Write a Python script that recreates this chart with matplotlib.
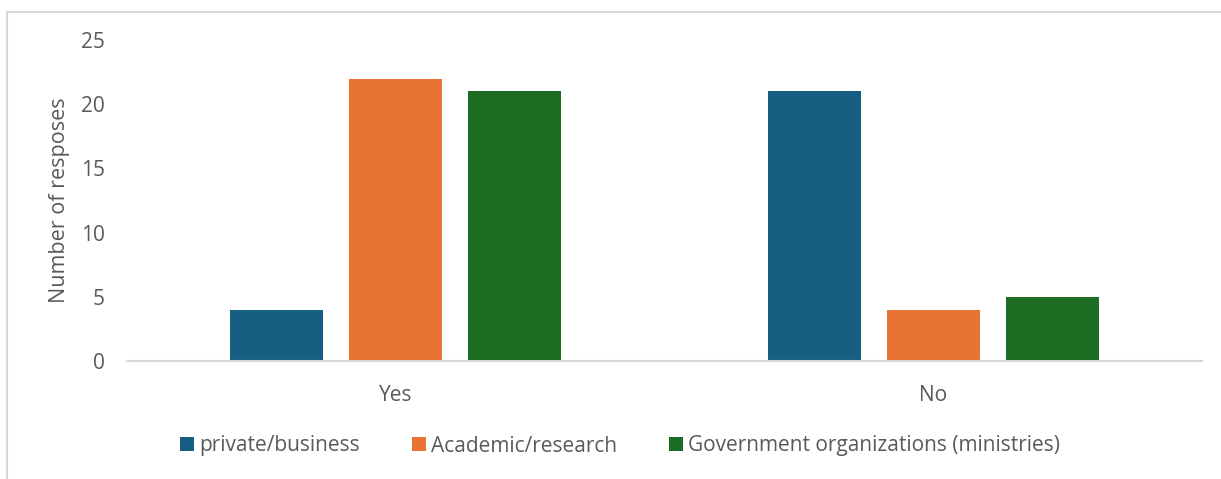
import matplotlib.pyplot as plt
import numpy as np
from matplotlib.patches import Rectangle

categories = ['Yes', 'No']
series_names = ['private/business', 'Academic/research',
                'Government organizations (ministries)']
private_vals = [4, 21]
academic_vals = [22, 4]
government_vals = [21, 5]
colors = ['#175f82', '#e97333', '#1c6c24']
yticks = [0, 5, 10, 15, 20, 25]

plt.rcParams['font.family'] = ['Open Sans', 'DejaVu Sans']

W, H = 1221, 479
fig = plt.figure(figsize=(W / 100, H / 100), dpi=100)
fig.patches.append(Rectangle((7 / W, -0.01), 1.05, 1 - 12 / H + 0.01,
                             transform=fig.transFigure, fill=False,
                             edgecolor='#d9d9d9', linewidth=1.5))

ax = fig.add_axes([127 / W, 1 - 361 / H, (1202 - 127) / W, (361 - 40) / H])

x = np.arange(len(categories))
width = 0.173
step = 0.2216
for i, (vals, name) in enumerate(zip([private_vals, academic_vals, government_vals],
                                      series_names)):
    ax.bar(x + (i - 1) * step, vals, width, color=colors[i], label=name)

ax.set_xlim(-0.5, 1.5)
ax.set_ylim(0, 25)
ax.set_yticks(yticks)
ax.set_xticks(x)
ax.set_xticklabels(categories)
for s in ['top', 'right', 'left']:
    ax.spines[s].set_visible(False)
ax.spines['bottom'].set_color('#d9d9d9')
ax.spines['bottom'].set_linewidth(1.5)
ax.tick_params(axis='both', length=0, labelsize=15, colors='#595959')
ax.tick_params(axis='y', pad=16)
ax.tick_params(axis='x', pad=17)
ax.set_ylabel('Number of resposes', fontsize=15.5, color='#595959', labelpad=8)

leg = fig.legend(loc='center', bbox_to_anchor=(620 / W, 1 - 446 / H), ncol=3,
                 frameon=False, fontsize=15, handlelength=0.67, handleheight=0.67,
                 handletextpad=0.25, columnspacing=2.5)
for t in leg.get_texts():
    t.set_color('#595959')

fig.savefig('out.png', dpi=100)
